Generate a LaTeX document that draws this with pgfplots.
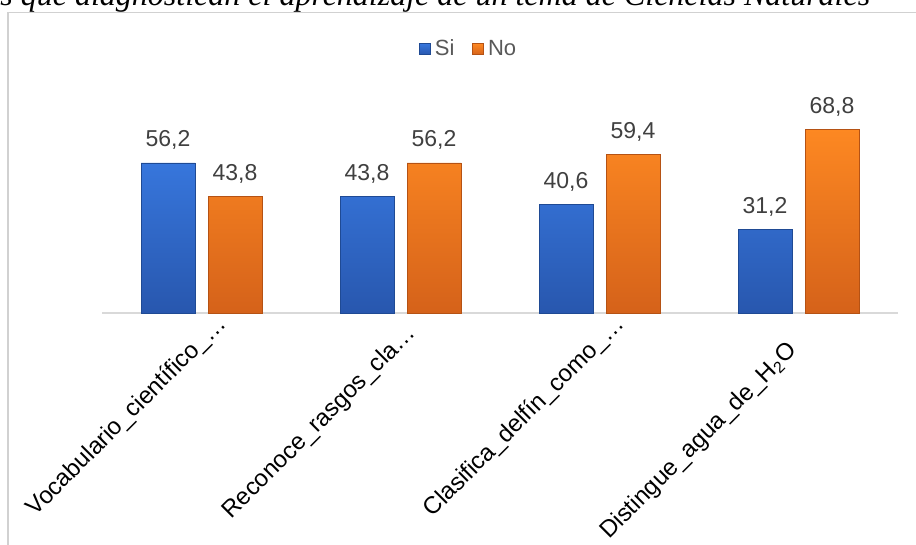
\documentclass[border=0pt]{standalone}
\usepackage{fontspec}
\setmainfont{Liberation Sans}
\newfontfamily\titlefont{Liberation Serif}
\usepackage{pgfplots}
\pgfplotsset{compat=1.18}
\definecolor{bluetop}{HTML}{3776DC}
\definecolor{bluebot}{HTML}{2857AE}
\definecolor{blueedge}{HTML}{1F4A94}
\definecolor{orgtop}{HTML}{FD8822}
\definecolor{orgbot}{HTML}{D5621A}
\definecolor{orgedge}{HTML}{B55214}
\begin{document}
\begin{tikzpicture}[x=0.5pt,y=0.5pt]
\path[use as bounding box] (0,0) rectangle (916,545);
\clip (0,0) rectangle (916,545);
\fill[white] (0,0) rectangle (916,545);
\draw[black!18, line width=0.6pt] (8,-5) -- (8,532.5) -- (925,532.5);
\node[anchor=base west, inner sep=0pt, font=\titlefont\itshape\fontsize{16}{18}\selectfont] at (0,539) {s que diagnostican el aprendizaje de un tema de Ciencias Naturales};
\begin{axis}[
  at={(51pt,116pt)}, anchor=south west,
  scale only axis, width=398pt, height=106.8pt,
  xmin=-0.5, xmax=3.5, ymin=0, ymax=80,
  ybar=6.5pt, bar width=27pt,
  axis x line*=bottom, axis y line=none,
  x axis line style={draw=black!15, line width=1pt},
  xtick={0,1,2,3},
  xticklabels={Vocabulario\_científico\rlap{\_…}, Reconoce\_rasgos\_cla\rlap{…}, Clasifica\_delfín\_como\rlap{\_…}, Distingue\_agua\_de\_H\textsubscript{2}O},
  major tick length=0pt,
  xticklabel style={xshift=-2.5pt, yshift=-17pt, rotate=45, anchor=east, inner sep=0pt, font=\fontsize{12}{14}\selectfont, text=black},
  ytick=\empty,
  clip=false,
  nodes near coords,
  every node near coord/.append style={anchor=base, inner sep=0pt, yshift=8pt, font=\fontsize{11.5}{13}\selectfont, text=black!75},
  /pgf/number format/.cd, use comma, fixed, fixed zerofill, precision=1, assume math mode=true,
  /pgfplots/.cd,
  legend style={at={(0.462,1.235)}, anchor=center, draw=none, fill=none, legend columns=2,
    font=\fontsize{11}{13}\selectfont, text=black!65,
    /tikz/every even column/.append style={column sep=7pt}},
]
\addplot[top color=bluetop, bottom color=bluebot, draw=blueedge, line width=0.3pt,
  legend image code/.code={\path[top color=bluetop, bottom color=bluebot, draw=blueedge, line width=0.3pt] (0pt,-2.75pt) rectangle (5.5pt,2.75pt);}]
  coordinates {(0,56.2) (1,43.8) (2,40.6) (3,31.2)};
\addplot[top color=orgtop, bottom color=orgbot, draw=orgedge, line width=0.3pt,
  legend image code/.code={\path[top color=orgtop, bottom color=orgbot, draw=orgedge, line width=0.3pt] (0pt,-2.75pt) rectangle (5.5pt,2.75pt);}]
  coordinates {(0,43.8) (1,56.2) (2,59.4) (3,68.8)};
\legend{Si, No}
\end{axis}
\end{tikzpicture}
\end{document}
